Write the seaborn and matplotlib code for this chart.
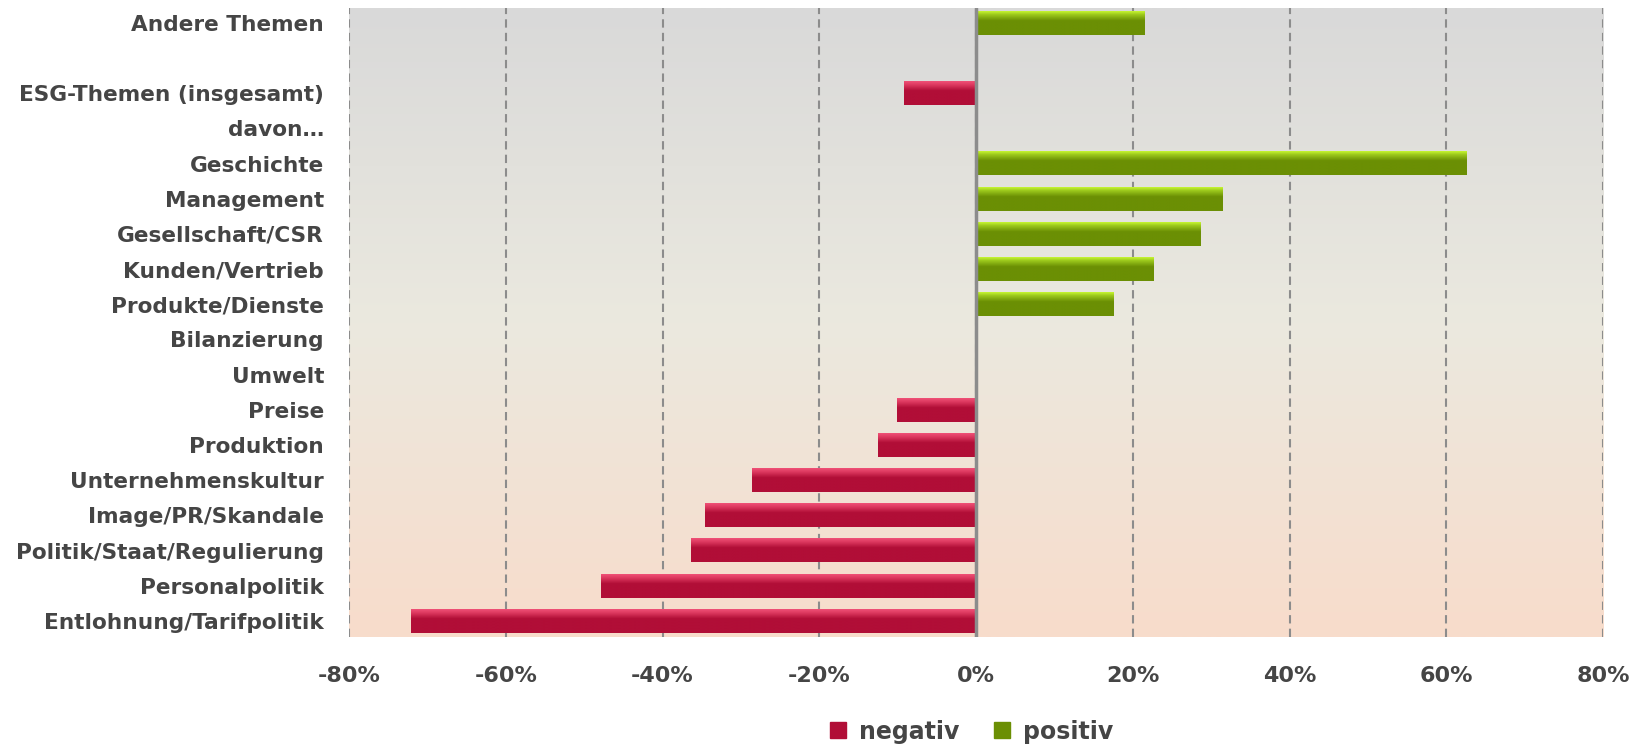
import numpy as np
import pandas as pd
import matplotlib
matplotlib.use("Agg")
import matplotlib.pyplot as plt
import seaborn as sns
from matplotlib.colors import LinearSegmentedColormap
from matplotlib.ticker import PercentFormatter
from matplotlib.lines import Line2D

# ---- data ----
categories = ["Andere Themen", " ", "ESG-Themen (insgesamt)", "davon…", "Geschichte",
              "Management", "Gesellschaft/CSR", "Kunden/Vertrieb", "Produkte/Dienste",
              "Bilanzierung", "Umwelt", "Preise", "Produktion", "Unternehmenskultur",
              "Image/PR/Skandale", "Politik/Staat/Regulierung", "Personalpolitik",
              "Entlohnung/Tarifpolitik"]
values_pct = [21.5, 0, -9.2, 0, 62.6, 31.5, 28.7, 22.7, 17.6, 0, 0,
              -10.1, -12.5, -28.6, -34.6, -36.3, -47.9, -72.1]
series_names = ["negativ", "positiv"]
x_ticks_pct = [-80, -60, -40, -20, 0, 20, 40, 60, 80]

# ---- style ----
sns.set_theme(style="white")
plt.rcParams["font.family"] = ["DejaVu Sans"]
plt.rcParams["axes.unicode_minus"] = False

neg_color = "#b10e37"
pos_color = "#6b8f04"
text_color = "#454545"
grid_color = "#8c8c8c"

df = pd.DataFrame({
    "Kategorie": categories,
    "Wert": np.array(values_pct) / 100.0,
})
df["Richtung"] = np.where(df["Wert"] < 0, series_names[0], series_names[1])

fig = plt.figure(figsize=(16.44, 7.46), dpi=100)
ax = fig.add_axes([349 / 1644, 1 - 637 / 746, (1603 - 349) / 1644, (637 - 8) / 746])

# background gradient
bg_cmap = LinearSegmentedColormap.from_list(
    "bg", [(0.0, "#d9d9d9"), (0.5, "#ebe9df"), (1.0, "#f8dccb")])
grad = np.linspace(0, 1, 256).reshape(-1, 1)
ax.imshow(grad, extent=(0, 1, 0, 1), transform=ax.transAxes, aspect="auto",
          cmap=bg_cmap, origin="upper", zorder=0)

sns.barplot(data=df, x="Wert", y="Kategorie", hue="Richtung",
            hue_order=series_names, palette=[neg_color, pos_color],
            order=categories, dodge=False, orient="h", width=0.673,
            legend=False, ax=ax, zorder=1, saturation=1, linewidth=0,
            edgecolor="none")

# bar shading gradient (light top edge)
def bar_cmap(light, mid, dark):
    return LinearSegmentedColormap.from_list(
        "b", [(0.0, light), (0.14, mid), (0.40, dark), (1.0, dark)])

red_cmap = bar_cmap("#ef5177", "#df3a61", neg_color)
green_cmap = bar_cmap("#c6f532", "#9cc91c", pos_color)
bgrad = np.linspace(0, 1, 64).reshape(-1, 1)
for p in list(ax.patches):
    w = p.get_width()
    if not np.isfinite(w) or w == 0:
        continue
    x0 = p.get_x()
    x1 = x0 + w
    y0 = p.get_y()
    h = p.get_height()
    cm = red_cmap if w < 0 else green_cmap
    ax.imshow(bgrad, extent=(min(x0, x1), max(x0, x1), y0 + h, y0),
              origin="upper", aspect="auto", cmap=cm, zorder=2,
              interpolation="bilinear")

n = len(categories)
ax.set_xlim(x_ticks_pct[0] / 100, x_ticks_pct[-1] / 100)
ax.set_ylim(n - 1 + 0.455, -0.42)

# grid & zero line
ax.set_axisbelow(True)
ax.set_xticks(np.array(x_ticks_pct) / 100)
ax.xaxis.set_major_formatter(PercentFormatter(xmax=1, decimals=0))
ax.xaxis.grid(True, linestyle=(0, (4, 2.5)), color=grid_color, linewidth=1.5, zorder=0.5)
ax.yaxis.grid(False)
ax.axvline(0, color=grid_color, linewidth=2.5, zorder=3)

for s in ax.spines.values():
    s.set_visible(False)

ax.set_xlabel("")
ax.set_ylabel("")
ax.tick_params(axis="both", length=0)
ax.tick_params(axis="y", pad=18, labelsize=15.6, labelcolor=text_color)
ax.tick_params(axis="x", pad=21, labelsize=16, labelcolor=text_color)
for lbl in ax.get_yticklabels() + ax.get_xticklabels():
    lbl.set_fontweight("bold")

handles = [Line2D([], [], marker="s", linestyle="none", markersize=12,
                  markerfacecolor=c, markeredgecolor=c)
           for c in (neg_color, pos_color)]
leg = fig.legend(handles, series_names, loc="lower center",
                 bbox_to_anchor=(970 / 1644, 0.0), ncol=2, frameon=False,
                 prop={"size": 17, "weight": "bold"}, handlelength=1.0,
                 handletextpad=0.4, columnspacing=1.3,
                 borderaxespad=0.0, borderpad=0.1)
for t in leg.get_texts():
    t.set_color(text_color)

fig.savefig("out.png", dpi=100)
